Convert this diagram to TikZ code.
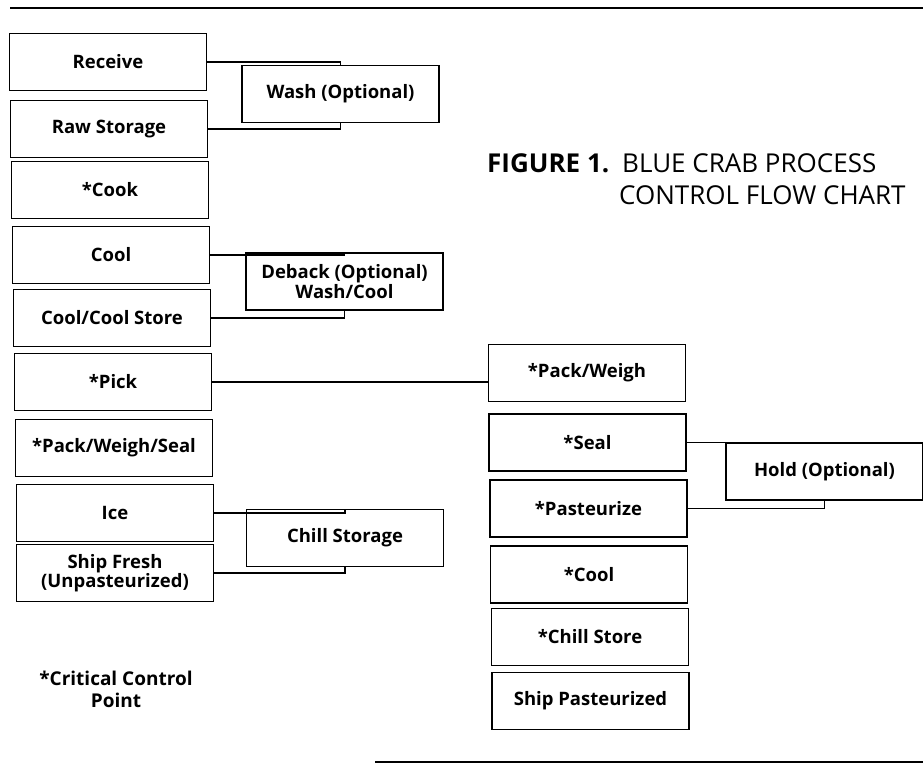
\documentclass[tikz,border=0pt]{standalone}
\usepackage{fontspec}
\setmainfont{Open Sans}
\begin{document}
\begin{tikzpicture}[x=1pt,y=-1pt,
  box/.style={draw, line width=1.3pt, minimum width=197pt, minimum height=57pt, inner sep=1pt, align=center, font=\fontsize{18.5}{18}\selectfont\bfseries},
  link/.style={line width=1.2pt}]
\useasboundingbox (0,0) rectangle (923,764);
\draw[line width=2.2pt] (10,8) -- (923,8);
\draw[line width=2pt] (375,762) -- (923,762);
% left column
\node[box] (rec) at (108,62) {Receive};
\node[box] (raw) at (109,129) {Raw Storage};
\node[box] (cook) at (110,190) {*Cook};
\node[box] (cool) at (111,255) {Cool};
\node[box] (ccs) at (112,318) {Cool/Cool Store};
\node[box] (pick) at (113,382) {*Pick};
\node[box] (pws) at (114,448) {*Pack/Weigh/Seal};
\node[box] (ice) at (115,513) {Ice};
\node[box] (sf) at (115,573) {Ship Fresh\\(Unpasteurized)};
% side boxes
\node[box] (wash) at (340.5,94) {Wash (Optional)};
\node[box] (deb) at (344.5,281.5) {Deback (Optional)\\Wash/Cool};
\node[box] (chill) at (345,538) {Chill Storage};
% right column
\node[box] (pw) at (587,373) {*Pack/Weigh};
\node[box] (seal) at (587.5,442.5) {*Seal};
\node[box] (past) at (588.5,508.5) {*Pasteurize};
\node[box] (rcool) at (589,574.5) {*Cool};
\node[box] (cst) at (590,637) {*Chill Store};
\node[box] (shp) at (590.5,701) {Ship Pasteurized};
\node[box] (hold) at (824.5,471.5) {Hold (Optional)};
% connectors
\draw[link] (rec.east) -| (wash.north);
\draw[link] (raw.east) -| (wash.south);
\draw[link] (cool.east) -| (deb.north);
\draw[link] (ccs.east) -| (deb.south);
\draw[link] (ice.east) -| (chill.north);
\draw[link] (sf.east) -| (chill.south);
\draw[link] (pick.east) -- (pick.east -| pw.west);
\draw[link] (seal.east) -| (hold.north);
\draw[link] (past.east) -| (hold.south);
% title
\node[anchor=base west, font=\fontsize{26}{26}\selectfont\bfseries, inner sep=0pt] (fig) at (487,172) {FIGURE 1.};
\node[anchor=base west, font=\fontsize{26}{26}\selectfont, inner sep=0pt] (t1) at (622,172) {BLUE CRAB PROCESS};
\node[anchor=base west, font=\fontsize{26}{26}\selectfont, inner sep=0pt] (t2) at (619,204) {CONTROL FLOW CHART};
% legend
\node[align=center, font=\fontsize{19}{22}\selectfont\bfseries] (ccp) at (116,689) {*Critical Control\\Point};
\end{tikzpicture}
\end{document}
